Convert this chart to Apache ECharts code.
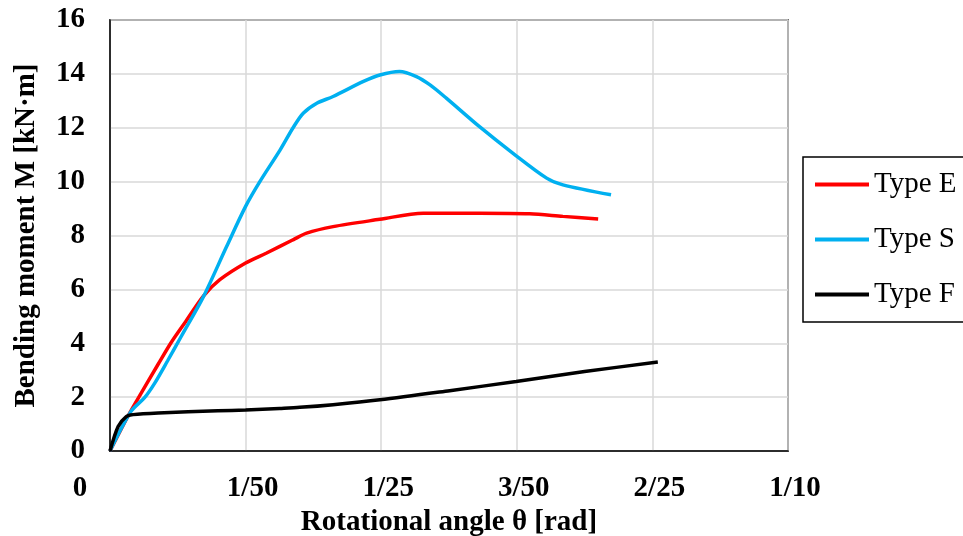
<!DOCTYPE html>
<html>
<head>
<meta charset="utf-8">
<script src="https://cdn.jsdelivr.net/npm/echarts@6/dist/echarts.min.js"></script>
<style>
  html, body { margin: 0; padding: 0; background: #fff; }
  #chart { width: 963px; height: 536px; }
</style>
</head>
<body>
<div id="chart"></div>
<script>
// rotational angle θ [rad] and bending moment M [kN·m]
var thetaE = [0, 0.0029, 0.0046, 0.0071, 0.0090, 0.0112, 0.0138, 0.0162, 0.0200, 0.0231, 0.0270, 0.0290, 0.0329, 0.0398, 0.0462, 0.0545, 0.0619, 0.0668, 0.0720];
var momentE = [0, 1.41, 2.15, 3.22, 4.02, 4.82, 5.76, 6.36, 6.98, 7.35, 7.84, 8.09, 8.33, 8.60, 8.83, 8.83, 8.81, 8.71, 8.61];

var thetaS = [0, 0.0031, 0.0051, 0.0066, 0.0085, 0.0105, 0.0138, 0.0172, 0.0200, 0.0221, 0.0251, 0.0270, 0.0285, 0.0305, 0.0329, 0.0373, 0.0398, 0.0427, 0.0452, 0.0472, 0.0496, 0.0545, 0.0594, 0.0644, 0.0668, 0.0739];
var momentS = [0, 1.47, 1.98, 2.52, 3.35, 4.25, 5.74, 7.59, 9.08, 10.00, 11.18, 12.00, 12.54, 12.91, 13.16, 13.71, 13.96, 14.09, 13.90, 13.59, 13.10, 12.04, 11.06, 10.13, 9.88, 9.51];

var thetaF = [0, 0.0012, 0.0024, 0.0034, 0.0071, 0.0159, 0.0200, 0.0250, 0.0280, 0.0329, 0.0398, 0.0501, 0.0599, 0.0700, 0.0808];
var momentF = [0, 0.91, 1.28, 1.35, 1.41, 1.49, 1.52, 1.58, 1.62, 1.72, 1.90, 2.24, 2.58, 2.95, 3.30];

var seriesNames = ['Type E', 'Type S', 'Type F'];
var seriesColors = ['#ff0000', '#00b0f0', '#000000'];
var xTickLabels = { '0': '0', '0.02': '1/50', '0.04': '1/25', '0.06': '3/50', '0.08': '2/25', '0.1': '1/10' };

function zip(xs, ys) {
  return xs.map(function (x, i) { return [x, ys[i]]; });
}

var font = '"Liberation Serif", "Times New Roman", serif';

var myChart = echarts.init(document.getElementById('chart'));
var option = {
  animation: false,
  grid: {
    left: 110, right: 175, top: 20, bottom: 85,
    outerBoundsMode: 'none',
    show: true, borderColor: '#000', borderWidth: 1.5
  },
  legend: {
    orient: 'vertical',
    left: 803, top: 157,
    padding: [13, 12, 13, 12],
    icon: 'rect',
    itemWidth: 54, itemHeight: 4, itemGap: 26,
    borderColor: '#000', borderWidth: 1.5,
    textStyle: { fontFamily: font, fontSize: 29, color: '#000' },
    data: seriesNames
  },
  xAxis: {
    type: 'value',
    min: 0, max: 0.1, interval: 0.02,
    name: 'Rotational angle θ [rad]',
    nameLocation: 'middle',
    nameGap: 54,
    nameTextStyle: { fontFamily: font, fontSize: 29, fontWeight: 'bold', color: '#000' },
    axisLine: { lineStyle: { color: '#000', width: 1.5 } },
    axisTick: { show: false },
    splitLine: { lineStyle: { color: '#d9d9d9', width: 1.5 } },
    axisLabel: {
      margin: 23,
      formatter: function (v) {
        var t = xTickLabels[String(+v.toFixed(2))];
        return v === 0 ? '{z|' + t + '}' : '{n|' + t + '}';
      },
      rich: {
        z: { fontFamily: font, fontSize: 29, fontWeight: 'bold', color: '#000', padding: [0, 60, 0, 0] },
        n: { fontFamily: font, fontSize: 29, fontWeight: 'bold', color: '#000', padding: [0, 0, 0, 14] }
      }
    }
  },
  yAxis: {
    type: 'value',
    min: 0, max: 16, interval: 2,
    name: 'Bending moment M [kN·m]',
    nameLocation: 'middle',
    nameGap: 69,
    nameTextStyle: { fontFamily: font, fontSize: 29, fontWeight: 'bold', color: '#000' },
    axisLine: { show: true, lineStyle: { color: '#000', width: 1.5 } },
    axisTick: { show: false },
    splitLine: { lineStyle: { color: '#d9d9d9', width: 1.5 } },
    axisLabel: { margin: 25, fontFamily: font, fontSize: 29, fontWeight: 'bold', color: '#000' }
  },
  series: [
    {
      name: seriesNames[0], type: 'line', symbol: 'none', smooth: 0.3,
      lineStyle: { color: seriesColors[0], width: 3.5 }, itemStyle: { color: seriesColors[0] },
      data: zip(thetaE, momentE)
    },
    {
      name: seriesNames[1], type: 'line', symbol: 'none', smooth: 0.3,
      lineStyle: { color: seriesColors[1], width: 3.5 }, itemStyle: { color: seriesColors[1] },
      data: zip(thetaS, momentS)
    },
    {
      name: seriesNames[2], type: 'line', symbol: 'none', smooth: 0.3,
      lineStyle: { color: seriesColors[2], width: 3.5 }, itemStyle: { color: seriesColors[2] },
      data: zip(thetaF, momentF)
    }
  ]
};

myChart.setOption(option);
</script>
</body>
</html>
